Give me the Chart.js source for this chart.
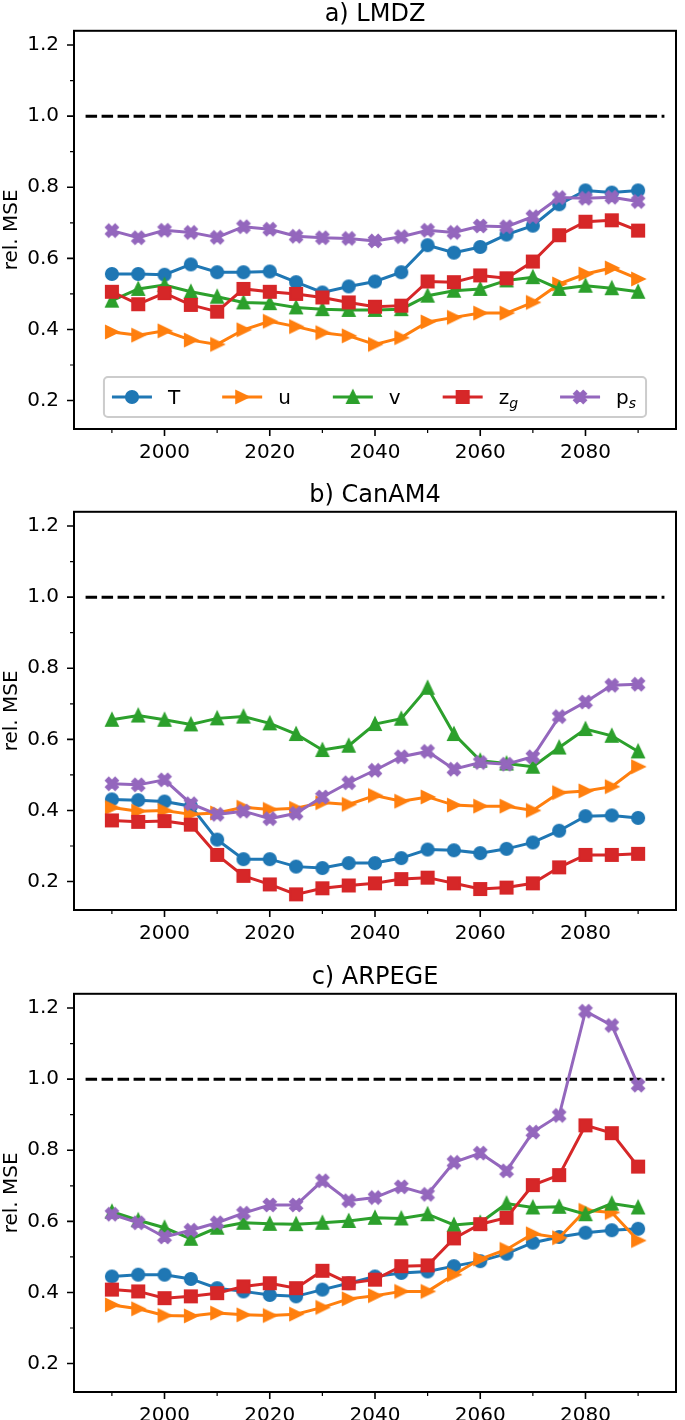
<!DOCTYPE html>
<html>
<head>
<meta charset="utf-8">
<script src="https://cdn.jsdelivr.net/npm/chart.js@4.4.1/dist/chart.umd.min.js"></script>
<style>
  html, body { margin: 0; padding: 0; background: #fff; }
  #wrap { position: relative; width: 685px; height: 1420px; overflow: hidden; }
  canvas { position: absolute; left: 0; }
</style>
</head>
<body>
<div id="wrap">
  <canvas id="panel-a" width="685" height="480" style="top:0px"></canvas>
  <canvas id="panel-b" width="685" height="480" style="top:481px"></canvas>
  <canvas id="panel-c" width="685" height="457" style="top:963px"></canvas>
</div>
<script>
// years shared by every series
const years = [1990, 1995, 2000, 2005, 2010, 2015, 2020, 2025, 2030, 2035, 2040,
               2045, 2050, 2055, 2060, 2065, 2070, 2075, 2080, 2085, 2090];

const seriesLabels = ['T', 'u', 'v', 'z_g', 'p_s'];

// a) LMDZ
const lmdzT  = [0.556, 0.556, 0.554, 0.583, 0.561, 0.561, 0.563, 0.533, 0.504, 0.521, 0.535,
                0.561, 0.637, 0.616, 0.632, 0.667, 0.692, 0.752, 0.791, 0.785, 0.791];
const lmdzU  = [0.393, 0.384, 0.396, 0.370, 0.358, 0.399, 0.423, 0.408, 0.391, 0.382, 0.358,
                0.377, 0.421, 0.434, 0.446, 0.446, 0.476, 0.528, 0.556, 0.573, 0.542];
const lmdzV  = [0.481, 0.514, 0.525, 0.506, 0.492, 0.476, 0.474, 0.462, 0.457, 0.455, 0.455,
                0.457, 0.495, 0.509, 0.514, 0.538, 0.547, 0.514, 0.523, 0.516, 0.506];
const lmdzZg = [0.506, 0.471, 0.502, 0.469, 0.450, 0.514, 0.506, 0.500, 0.490, 0.476, 0.464,
                0.467, 0.535, 0.533, 0.552, 0.544, 0.591, 0.665, 0.703, 0.707, 0.678];
const lmdzPs = [0.678, 0.658, 0.679, 0.673, 0.659, 0.689, 0.682, 0.662, 0.658, 0.656, 0.649,
                0.661, 0.679, 0.673, 0.691, 0.689, 0.717, 0.771, 0.769, 0.772, 0.760];

// b) CanAM4
const canT  = [0.431, 0.429, 0.425, 0.412, 0.318, 0.263, 0.263, 0.242, 0.238, 0.252, 0.252,
               0.266, 0.290, 0.288, 0.280, 0.292, 0.310, 0.343, 0.384, 0.386, 0.379];
const canU  = [0.408, 0.398, 0.400, 0.389, 0.393, 0.409, 0.403, 0.406, 0.422, 0.417, 0.442,
               0.426, 0.438, 0.415, 0.412, 0.412, 0.400, 0.450, 0.455, 0.467, 0.523];
const canV  = [0.655, 0.667, 0.655, 0.642, 0.659, 0.664, 0.645, 0.615, 0.570, 0.582, 0.643,
               0.658, 0.745, 0.615, 0.540, 0.532, 0.523, 0.577, 0.629, 0.610, 0.566];
const canZg = [0.372, 0.368, 0.370, 0.360, 0.275, 0.216, 0.192, 0.164, 0.181, 0.189, 0.195,
               0.207, 0.211, 0.195, 0.179, 0.183, 0.195, 0.240, 0.275, 0.275, 0.278];
const canPs = [0.475, 0.472, 0.486, 0.419, 0.389, 0.398, 0.377, 0.392, 0.438, 0.478, 0.513,
               0.551, 0.566, 0.516, 0.535, 0.530, 0.551, 0.664, 0.705, 0.752, 0.755];

// c) ARPEGE
const arpT  = [0.445, 0.450, 0.450, 0.438, 0.412, 0.403, 0.393, 0.389, 0.408, 0.426, 0.445,
               0.455, 0.459, 0.474, 0.488, 0.509, 0.540, 0.556, 0.568, 0.575, 0.579];
const arpU  = [0.365, 0.354, 0.335, 0.334, 0.342, 0.337, 0.335, 0.339, 0.358, 0.382, 0.391,
               0.403, 0.403, 0.450, 0.494, 0.521, 0.565, 0.554, 0.631, 0.625, 0.546];
const arpV  = [0.627, 0.603, 0.582, 0.551, 0.582, 0.596, 0.593, 0.592, 0.596, 0.601, 0.610,
               0.608, 0.620, 0.590, 0.596, 0.650, 0.639, 0.641, 0.620, 0.650, 0.639];
const arpZg = [0.408, 0.403, 0.384, 0.389, 0.398, 0.417, 0.426, 0.412, 0.461, 0.426, 0.436,
               0.474, 0.476, 0.552, 0.592, 0.610, 0.702, 0.730, 0.870, 0.848, 0.754];
const arpPs = [0.620, 0.596, 0.556, 0.575, 0.596, 0.623, 0.646, 0.646, 0.714, 0.658, 0.667,
               0.697, 0.676, 0.766, 0.792, 0.742, 0.851, 0.898, 1.191, 1.151, 0.983];

// reference line at rel. MSE = 1
const refLineX = [1985, 2095];
const refLineY = [1.0, 1.0];

// axis ticks
const xMajorTicks = [2000, 2020, 2040, 2060, 2080];
const xMinorTicks = [1990, 2010, 2030, 2050, 2070, 2090];
const yMajorTicks = [0.2, 0.4, 0.6, 0.8, 1.0, 1.2];
const yMinorTicks = [0.3, 0.5, 0.7, 0.9, 1.1];

const colors = ['#1f77b4', '#ff7f0e', '#2ca02c', '#d62728', '#9467bd'];
const markerShapes = ['circle', 'triRight', 'triUp', 'square', 'xFilled'];

Chart.defaults.font.family = "'DejaVu Sans', sans-serif";
Chart.defaults.color = '#000';

// matplotlib-like filled markers as small canvases
function makeMarker(shape, color) {
    const c = document.createElement('canvas');
    c.width = 20;
    c.height = 20;
    const g = c.getContext('2d');
    g.translate(10, 10);
    g.fillStyle = color;
    g.strokeStyle = color;
    g.lineWidth = 1.5;
    g.lineJoin = 'miter';
    g.beginPath();
    if (shape === 'circle') {
        g.arc(0, 0, 6.3, 0, Math.PI * 2);
    } else if (shape === 'square') {
        g.rect(-6.3, -6.3, 12.6, 12.6);
    } else if (shape === 'triRight') {
        g.moveTo(6.8, 0); g.lineTo(-6.2, -6.2); g.lineTo(-6.2, 6.2);
    } else if (shape === 'triUp') {
        g.moveTo(0, -6.8); g.lineTo(-6.2, 6.2); g.lineTo(6.2, 6.2);
    } else if (shape === 'xFilled') {
        const pts = [[-1, -3], [1, -3], [1, -1], [3, -1], [3, 1], [1, 1],
                     [1, 3], [-1, 3], [-1, 1], [-3, 1], [-3, -1], [-1, -1]];
        const s = 2.25, k = Math.SQRT1_2;
        pts.forEach(([px, py], i) => {
            const rx = (px - py) * k * s, ry = (px + py) * k * s;
            if (i === 0) g.moveTo(rx, ry); else g.lineTo(rx, ry);
        });
    }
    g.closePath();
    g.fill();
    g.stroke();
    return c;
}

const markers = colors.map((c, i) => makeMarker(markerShapes[i], c));

function drawLabel(ctx, text, x, y) {
    // "z_g" -> z with italic subscript g
    const [main, sub] = text.split('_');
    ctx.font = "20px 'DejaVu Sans'";
    ctx.textBaseline = 'alphabetic';
    ctx.fillText(main, x, y);
    let w = ctx.measureText(main).width;
    if (sub) {
        ctx.font = "italic 14px 'DejaVu Sans'";
        ctx.fillText(sub, x + w, y + 4);
        w += ctx.measureText(sub).width;
    }
    return w;
}

function labelWidth(ctx, text) {
    const [main, sub] = text.split('_');
    ctx.font = "20px 'DejaVu Sans'";
    let w = ctx.measureText(main).width;
    if (sub) {
        ctx.font = "italic 14px 'DejaVu Sans'";
        w += ctx.measureText(sub).width;
    }
    return w;
}

// box, tick marks and (optionally) the legend inside the axes
const framePlugin = {
    id: 'frame',
    afterDraw(chart, args, opts) {
        const { ctx, chartArea: a, scales: { x, y } } = chart;
        ctx.save();
        ctx.strokeStyle = '#000';
        ctx.lineWidth = 2;
        ctx.strokeRect(a.left, a.top, a.right - a.left, a.bottom - a.top);

        const tick = (list, len, w, horizontal) => {
            ctx.lineWidth = w;
            ctx.beginPath();
            list.forEach(v => {
                if (horizontal) {
                    const px = x.getPixelForValue(v);
                    ctx.moveTo(px, a.bottom); ctx.lineTo(px, a.bottom + len);
                } else {
                    const py = y.getPixelForValue(v);
                    ctx.moveTo(a.left, py); ctx.lineTo(a.left - len, py);
                }
            });
            ctx.stroke();
        };
        tick(xMajorTicks, 7, 1.6, true);
        tick(xMinorTicks, 4, 1.2, true);
        tick(yMajorTicks, 7, 1.6, false);
        tick(yMinorTicks, 4, 1.2, false);

        if (opts.showLegend) {
            const handle = 40, textPad = 16, colGap = 42, pad = 8;
            const widths = seriesLabels.map(l => handle + textPad + labelWidth(ctx, l));
            const content = widths.reduce((s, w) => s + w, 0) + colGap * (widths.length - 1);
            const boxW = content + pad * 2 + 2;
            const boxH = 40;
            const boxL = (a.left + a.right) / 2 - boxW / 2;
            const boxT = a.bottom - 12 - boxH;
            ctx.beginPath();
            ctx.roundRect(boxL, boxT, boxW, boxH, 4);
            ctx.fillStyle = 'rgba(255,255,255,0.8)';
            ctx.fill();
            ctx.strokeStyle = '#cccccc';
            ctx.lineWidth = 2;
            ctx.stroke();

            const cy = boxT + boxH / 2;
            let cx = boxL + pad;
            seriesLabels.forEach((l, i) => {
                ctx.strokeStyle = colors[i];
                ctx.lineWidth = 3;
                ctx.beginPath();
                ctx.moveTo(cx, cy); ctx.lineTo(cx + handle, cy);
                ctx.stroke();
                const m = markers[i];
                ctx.drawImage(m, cx + handle / 2 - m.width / 2, cy - m.height / 2);
                ctx.fillStyle = '#000';
                drawLabel(ctx, l, cx + handle + textPad, cy + 7);
                cx += widths[i] + colGap;
            });
        }
        ctx.restore();
    }
};

function makePanel(id, title, values, showLegend) {
    const canvas = document.getElementById(id);
    const H = canvas.height;
    const datasets = values.map((vals, i) => ({
        label: seriesLabels[i],
        data: years.map((yr, j) => ({ x: yr, y: vals[j] })),
        borderColor: colors[i],
        backgroundColor: colors[i],
        borderWidth: 3,
        pointStyle: markers[i],
        pointRadius: 6,
        pointHoverRadius: 6,
        tension: 0,
        order: 5 - i
    }));
    datasets.push({
        label: 'ref',
        data: refLineX.map((xv, j) => ({ x: xv, y: refLineY[j] })),
        borderColor: '#000',
        borderWidth: 3,
        borderDash: [11.5, 4.5],
        pointRadius: 0,
        order: 10
    });

    return new Chart(canvas, {
        type: 'line',
        data: { datasets },
        options: {
            responsive: false,
            animation: false,
            events: [],
            layout: { padding: { left: 0, right: 1, top: 0, bottom: 0 } },
            plugins: {
                legend: { display: false },
                tooltip: { enabled: false },
                title: {
                    display: true,
                    text: title,
                    fullSize: false,
                    font: { size: 24, weight: 'normal' },
                    color: '#000',
                    padding: { top: 0, bottom: 2 }
                },
                frame: { showLegend }
            },
            scales: {
                x: {
                    type: 'linear',
                    min: 1982.8,
                    max: 2097.2,
                    grid: { display: false, drawTicks: false },
                    border: { display: false },
                    afterBuildTicks: s => { s.ticks = xMajorTicks.map(v => ({ value: v })); },
                    afterFit: s => { s.height = H - 429; },
                    ticks: {
                        font: { size: 20 },
                        color: '#000',
                        padding: 12,
                        maxRotation: 0,
                        callback: v => String(v)
                    }
                },
                y: {
                    type: 'linear',
                    min: 0.12,
                    max: 1.24,
                    grid: { display: false, drawTicks: false },
                    border: { display: false },
                    afterBuildTicks: s => { s.ticks = yMajorTicks.map(v => ({ value: v })); },
                    afterFit: s => { s.width = 74; },
                    title: {
                        display: true,
                        text: 'rel. MSE',
                        font: { size: 20 },
                        color: '#000',
                        padding: 0
                    },
                    ticks: {
                        font: { size: 20 },
                        color: '#000',
                        padding: 15,
                        callback: v => v.toFixed(1)
                    }
                }
            }
        },
        plugins: [framePlugin]
    });
}

makePanel('panel-a', 'a) LMDZ', [lmdzT, lmdzU, lmdzV, lmdzZg, lmdzPs], true);
makePanel('panel-b', 'b) CanAM4', [canT, canU, canV, canZg, canPs], false);
makePanel('panel-c', 'c) ARPEGE', [arpT, arpU, arpV, arpZg, arpPs], false);
</script>
</body>
</html>
